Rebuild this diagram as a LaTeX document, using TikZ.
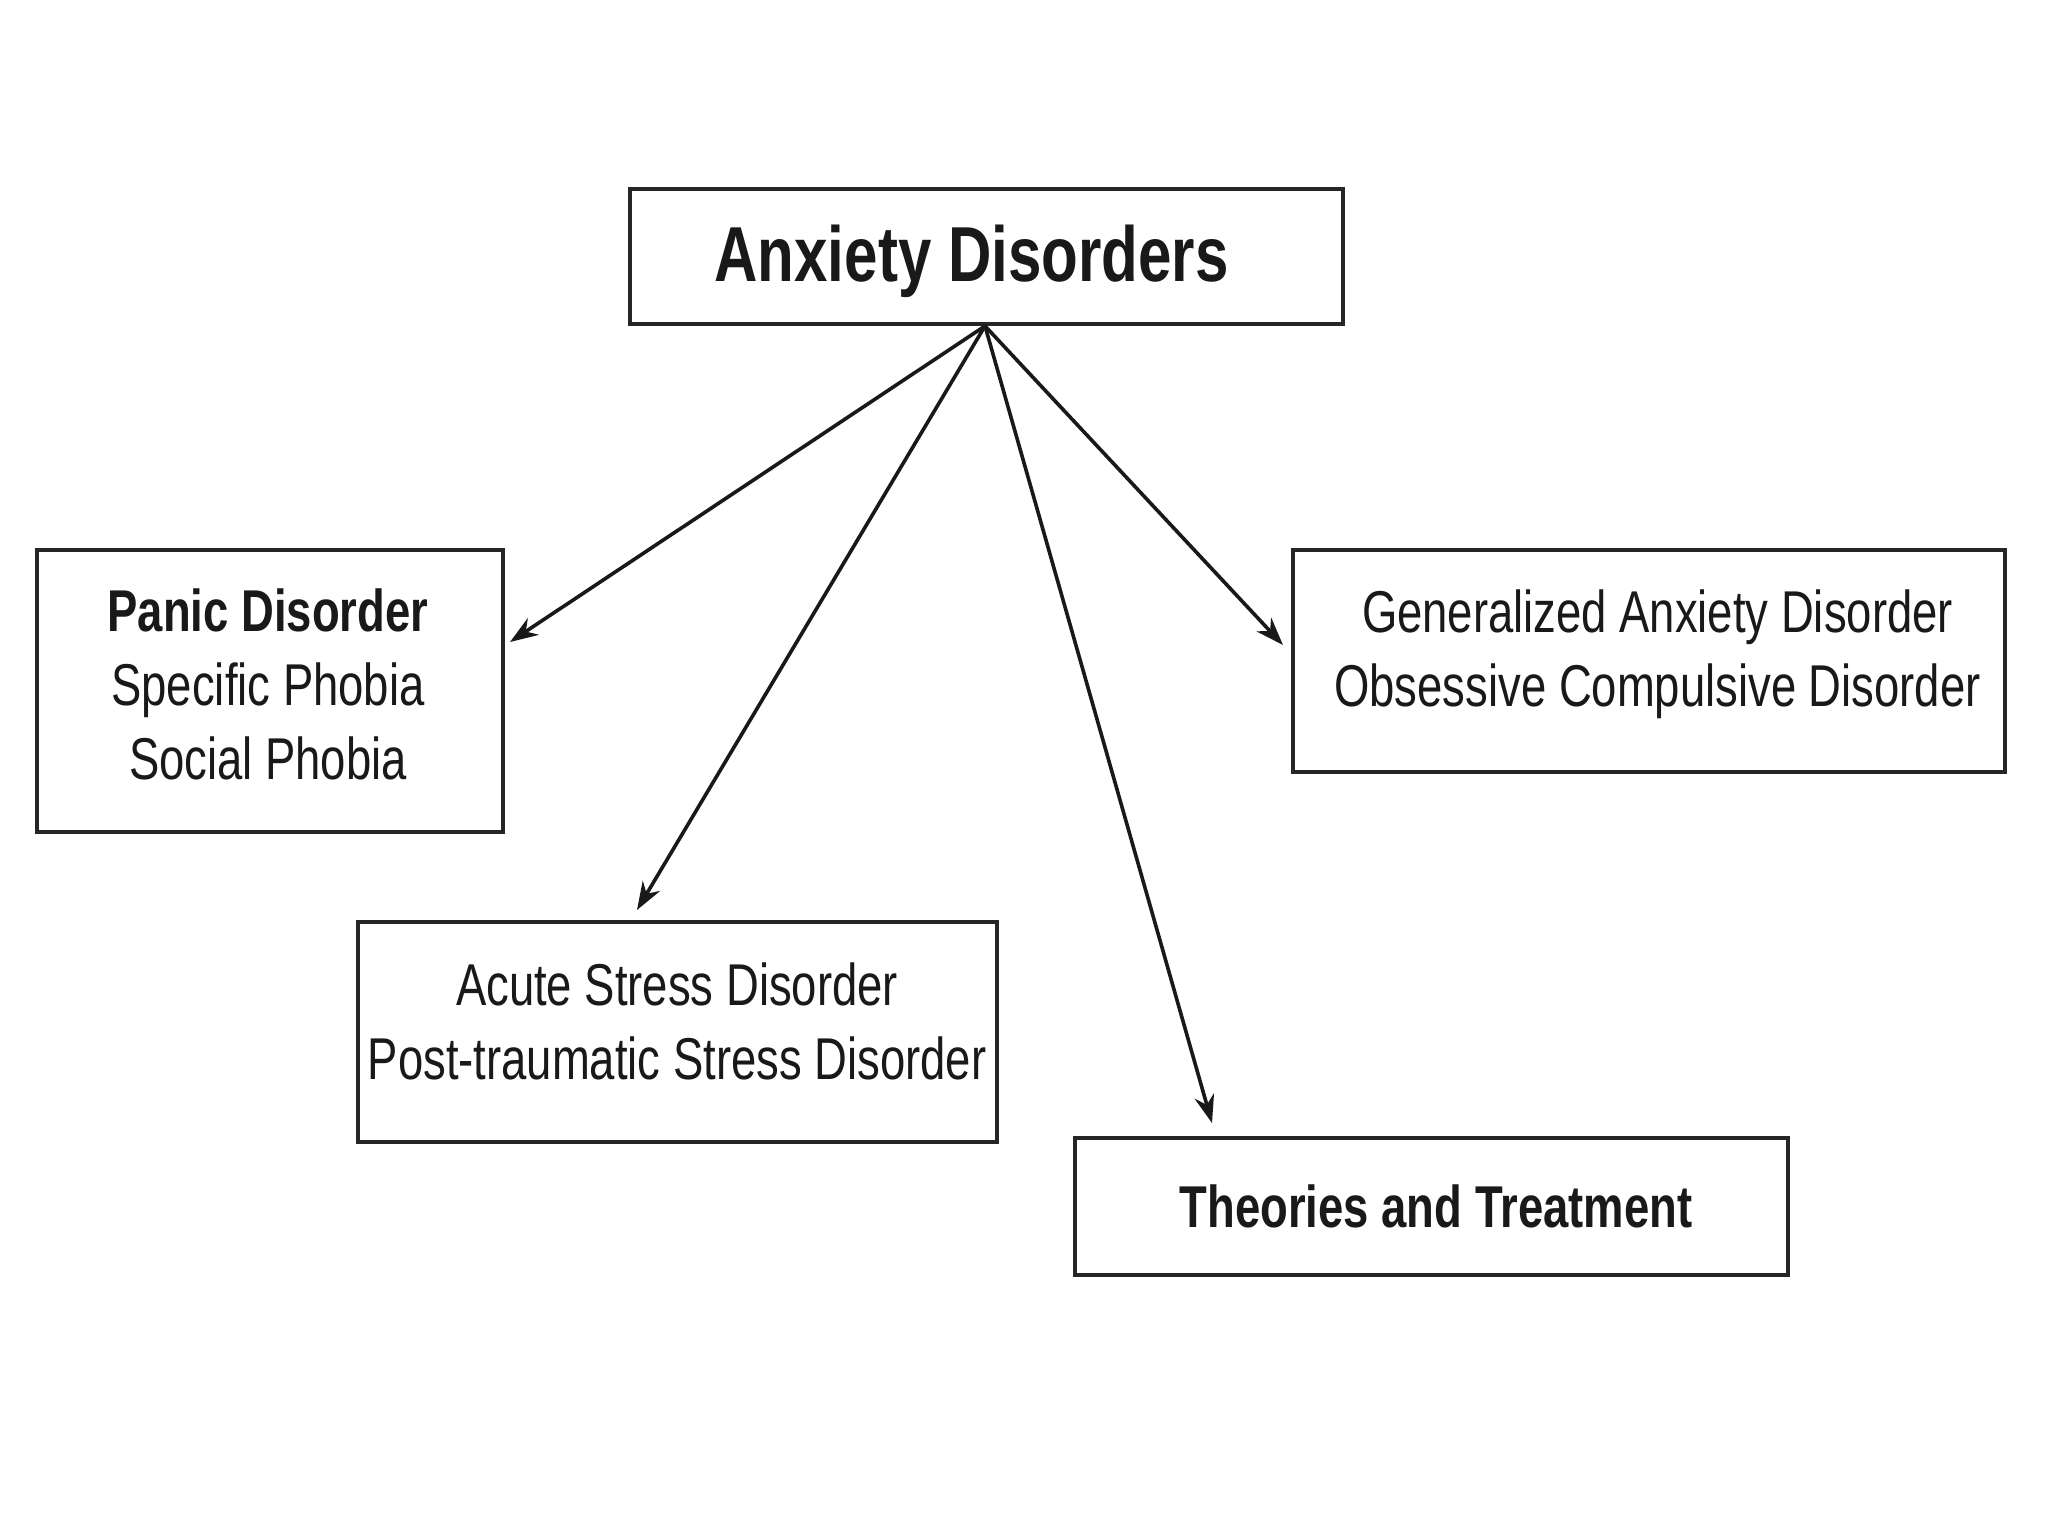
\documentclass[tikz,border=0pt]{standalone}
\usepackage{fontspec}
\newfontfamily\cond[FakeStretch=0.77]{Liberation Sans}
\usetikzlibrary{arrows.meta}
\begin{document}
\begin{tikzpicture}[x=1pt,y=-1pt,
  box/.style={draw=black!85, line width=4.5pt, fill=white, inner sep=0pt},
  lbl/.style={inner sep=0pt, align=center, text=black!90, font=\cond\fontsize{59}{74}\selectfont},
  biglbl/.style={inner sep=0pt, align=center, text=black!90, font=\cond\bfseries\fontsize{78}{90}\selectfont},
  conn/.style={draw=black!90, line width=3.6pt, -{Stealth[length=28pt,width=20pt]}}]
\useasboundingbox (0,0) rectangle (2048,1536);
% boxes
\node[box, minimum width=713pt, minimum height=135pt] (top) at (986.5,256.5) {};
\node[box, minimum width=466pt, minimum height=282pt] (panic) at (270,691) {};
\node[box, minimum width=712pt, minimum height=222pt] (gad) at (1649,661) {};
\node[box, minimum width=639pt, minimum height=220pt] (acute) at (677.5,1032) {};
\node[box, minimum width=713pt, minimum height=137pt] (theo) at (1431.5,1206.5) {};
% texts
\node[biglbl] (topt) at (971.5,261) {Anxiety Disorders};
\node[lbl] (panict) at (268,684.5) {\textbf{Panic Disorder}\\Specific Phobia\\Social Phobia};
\node[lbl] (gadt) at (1657.5,654.5) {Generalized Anxiety Disorder\\Obsessive Compulsive Disorder};
\node[lbl] (acutet) at (677,1021.5) {Acute Stress Disorder\\Post-traumatic Stress Disorder};
\node[lbl, font=\cond\bfseries\fontsize{59}{74}\selectfont] (theot) at (1436,1206) {Theories and Treatment};
% arrow ends
\coordinate (o) at (985,326);
\coordinate (pe) at (510,642);
\coordinate (ae) at (637,910);
\coordinate (te) at (1212,1123);
\coordinate (ge) at (1283,645);
\draw[conn] (o) -- (pe);
\draw[conn] (o) -- (ae);
\draw[conn] (o) -- (te);
\draw[conn] (o) -- (ge);
\end{tikzpicture}
\end{document}
